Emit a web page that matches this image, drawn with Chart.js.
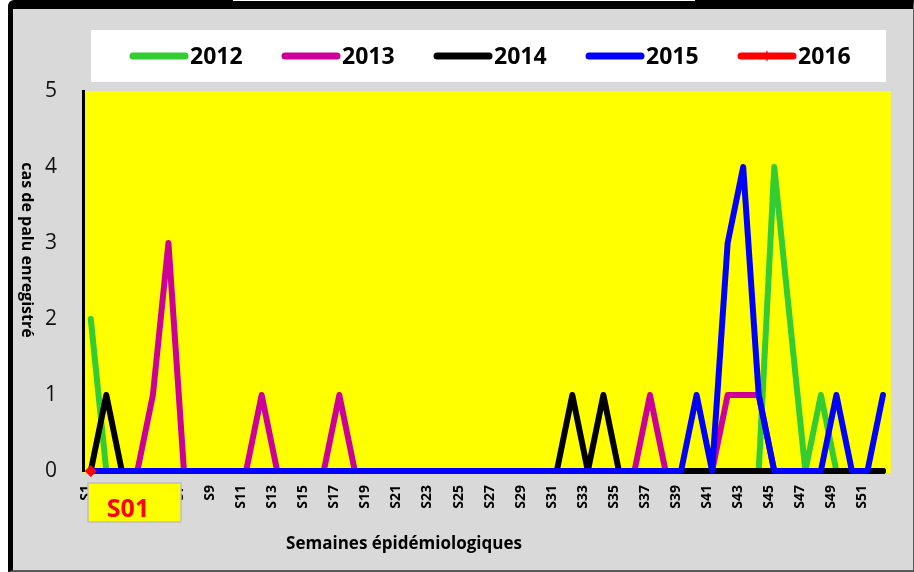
<!DOCTYPE html>
<html lang="fr">
<head>
<meta charset="utf-8">
<title>Cas de palu enregistrés par semaine</title>
<script src="https://cdn.jsdelivr.net/npm/chart.js@4.4.0/dist/chart.umd.min.js"></script>
<style>
    html, body { margin: 0; padding: 0; background: #ffffff; }
    body { width: 914px; height: 572px; position: relative; overflow: hidden; }
    .frame {
        position: absolute; left: 8px; top: 0; width: 906px; height: 572px;
        box-sizing: border-box; background: #d9d9d9;
        border-left: 5px solid #000; border-top: 9px solid #000;
        border-right: 1px solid #595959; border-bottom: 2px solid #595959;
        border-top-left-radius: 6px;
    }
    .strip { position: absolute; left: 233px; top: 0; width: 462px; height: 1px; background: #fff; }
    #chart { position: absolute; left: 0; top: 0; }
</style>
</head>
<body>
<div class="frame"></div>
<div class="strip"></div>
<canvas id="chart" width="914" height="572"></canvas>
<script>
// Weeks S1..S52
const weekLabels = [
    'S1', 'S2', 'S3', 'S4', 'S5', 'S6', 'S7', 'S8', 'S9', 'S10',
    'S11', 'S12', 'S13', 'S14', 'S15', 'S16', 'S17', 'S18', 'S19', 'S20',
    'S21', 'S22', 'S23', 'S24', 'S25', 'S26', 'S27', 'S28', 'S29', 'S30',
    'S31', 'S32', 'S33', 'S34', 'S35', 'S36', 'S37', 'S38', 'S39', 'S40',
    'S41', 'S42', 'S43', 'S44', 'S45', 'S46', 'S47', 'S48', 'S49', 'S50',
    'S51', 'S52'
];

// Cases per week
const cases2012 = [
    2, 0, 0, 0, 0, 0, 0, 0, 0, 0,
    0, 0, 0, 0, 0, 0, 0, 0, 0, 0,
    0, 0, 0, 0, 0, 0, 0, 0, 0, 0,
    0, 0, 0, 0, 0, 0, 0, 0, 0, 0,
    0, 0, 0, 0, 4, 2, 0, 1, 0, 0,
    0, 0
];
const cases2013 = [
    0, 0, 0, 0, 1, 3, 0, 0, 0, 0,
    0, 1, 0, 0, 0, 0, 1, 0, 0, 0,
    0, 0, 0, 0, 0, 0, 0, 0, 0, 0,
    0, 0, 0, 0, 0, 0, 1, 0, 0, 0,
    0, 1, 1, 1, 0, 0, 0, 0, 0, 0,
    0, 0
];
const cases2014 = [
    0, 1, 0, 0, 0, 0, 0, 0, 0, 0,
    0, 0, 0, 0, 0, 0, 0, 0, 0, 0,
    0, 0, 0, 0, 0, 0, 0, 0, 0, 0,
    0, 1, 0, 1, 0, 0, 0, 0, 0, 0,
    0, 0, 0, 0, 0, 0, 0, 0, 0, 0,
    0, 0
];
const cases2015 = [
    0, 0, 0, 0, 0, 0, 0, 0, 0, 0,
    0, 0, 0, 0, 0, 0, 0, 0, 0, 0,
    0, 0, 0, 0, 0, 0, 0, 0, 0, 0,
    0, 0, 0, 0, 0, 0, 0, 0, 0, 1,
    0, 3, 4, 1, 0, 0, 0, 0, 1, 0,
    0, 1
];
const cases2016 = [0];

const seriesNames = ['2012', '2013', '2014', '2015', '2016'];
const seriesColors = ['#33cc33', '#cc0099', '#000000', '#0000ff', '#ff0000'];

const FONT = '"Open Sans", "Noto Sans", sans-serif';

// Yellow plot background
const plotBackground = {
    id: 'plotBackground',
    beforeDraw(chart) {
        const { ctx, chartArea } = chart;
        ctx.save();
        ctx.fillStyle = '#ffff00';
        ctx.fillRect(chartArea.left, chartArea.top, chartArea.right - chartArea.left, chartArea.bottom - chartArea.top + 2);
        ctx.restore();
    }
};

// Legend in a white box above the plot
const legendBox = {
    id: 'legendBox',
    afterDraw(chart) {
        const ctx = chart.ctx;
        ctx.save();
        ctx.fillStyle = '#ffffff';
        ctx.fillRect(91, 30, 795, 52);
        chart.data.datasets.forEach((ds, i) => {
            const x = 130 + i * 152;
            const y = 56;
            ctx.strokeStyle = ds.borderColor;
            ctx.lineWidth = 7;
            ctx.lineCap = 'round';
            ctx.beginPath();
            ctx.moveTo(x + 3, y);
            ctx.lineTo(x + 55, y);
            ctx.stroke();
            if (ds.pointRadius > 0) {
                // small diamond marker in the middle of the sample line
                ctx.fillStyle = ds.backgroundColor;
                ctx.beginPath();
                ctx.moveTo(x + 29, y - 6);
                ctx.lineTo(x + 31, y);
                ctx.lineTo(x + 29, y + 6);
                ctx.lineTo(x + 27, y);
                ctx.fill();
            }
            ctx.fillStyle = '#000000';
            ctx.font = 'bold 23px ' + FONT;
            ctx.textAlign = 'left';
            ctx.textBaseline = 'middle';
            ctx.fillText(ds.label, x + 60, y + 1);
        });
        ctx.restore();
    }
};

// Axis titles and the "S01" label box
const annotations = {
    id: 'annotations',
    afterDraw(chart) {
        const ctx = chart.ctx;
        ctx.save();
        ctx.fillStyle = '#000000';
        ctx.textAlign = 'center';
        ctx.textBaseline = 'middle';

        ctx.font = 'bold 17px ' + FONT;
        ctx.fillText('Semaines épidémiologiques', 404, 544);

        ctx.save();
        ctx.translate(27, 250);
        ctx.rotate(Math.PI / 2);
        ctx.font = 'bold 16px ' + FONT;
        ctx.fillText('cas de palu enregistré', 0, 0);
        ctx.restore();

        ctx.fillStyle = '#ffff00';
        ctx.fillRect(88, 483, 93, 39);
        ctx.strokeStyle = '#bfbfbf';
        ctx.lineWidth = 1.5;
        ctx.strokeRect(88, 483, 93, 39);
        ctx.fillStyle = '#ff0000';
        ctx.font = 'bold 25px ' + FONT;
        ctx.fillText('S01', 128, 510);
        ctx.restore();
    }
};

const allSeries = [cases2012, cases2013, cases2014, cases2015, cases2016];

const datasets = allSeries.map((values, i) => ({
    label: seriesNames[i],
    data: values,
    borderColor: seriesColors[i],
    backgroundColor: seriesColors[i],
    borderWidth: 6,
    borderJoinStyle: 'round',
    borderCapStyle: 'round',
    tension: 0,
    clip: false,
    pointRadius: i === 4 ? 6 : 0,
    pointStyle: 'rectRot',
    pointBorderWidth: 0,
    order: 5 - i
}));

new Chart(document.getElementById('chart'), {
    type: 'line',
    data: { labels: weekLabels, datasets: datasets },
    options: {
        responsive: false,
        animation: false,
        layout: { padding: { left: 0, right: 22, top: 91, bottom: 0 } },
        plugins: {
            legend: { display: false },
            tooltip: { enabled: false }
        },
        scales: {
            x: {
                offset: true,
                grid: { display: false, drawTicks: false },
                border: { display: false },
                ticks: {
                    autoSkip: false,
                    minRotation: 90,
                    maxRotation: 90,
                    padding: 14,
                    labelOffset: -5,
                    color: '#000000',
                    font: { family: FONT, size: 14, weight: 'bold' },
                    callback: (value, index) => index % 2 === 0 ? weekLabels[index] : ''
                },
                afterFit: scale => { scale.height = 101; }
            },
            y: {
                min: 0,
                max: 5,
                grid: { display: false, drawTicks: false },
                border: { display: true, color: '#000000', width: 3 },
                ticks: {
                    stepSize: 1,
                    padding: 26,
                    color: '#111111',
                    font: { family: FONT, size: 21 }
                },
                afterFit: scale => { scale.width = 83; }
            }
        }
    },
    plugins: [plotBackground, legendBox, annotations]
});
</script>
</body>
</html>
